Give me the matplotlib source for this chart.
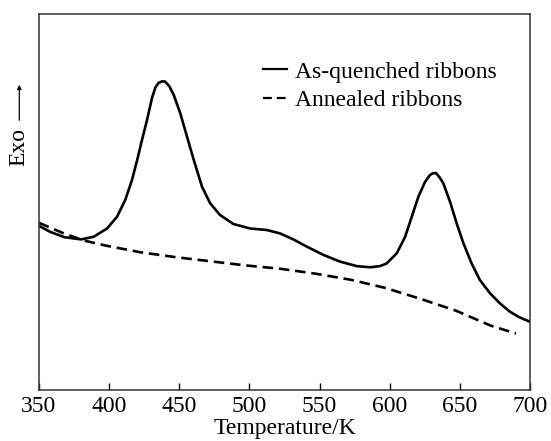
import numpy as np
import matplotlib
matplotlib.use("Agg")
import matplotlib.pyplot as plt

# temperature (K) and heat flow (arbitrary units)
temp_quenched = [350, 358, 368, 380, 389, 398.5, 405.6, 411.5, 416.3, 420, 423.4, 427, 430.5,
                 433, 435.3, 438, 440, 443, 446, 450.7, 455.5, 460.3, 466.2, 472, 479, 488.5,
                 500.4, 512.3, 521.8, 531.3, 540.8, 552.6, 564.6, 576.5, 586, 593, 597.8, 605,
                 611, 615.7, 620.4, 625.2, 628.7, 631, 633, 635.5, 638.2, 643, 647.7, 652.5,
                 658.4, 664.3, 671.5, 678.6, 685.7, 692, 700]
exo_quenched = [43.6, 42.0, 40.6, 40.0, 40.7, 42.9, 46.0, 50.5, 55.8, 61.1, 66.4, 71.7, 77.5,
                80.4, 81.6, 82.0, 81.9, 80.6, 78.4, 73.5, 67.3, 61.1, 54.0, 49.6, 46.5, 44.1,
                42.9, 42.5, 41.6, 40.0, 38.1, 35.9, 34.1, 32.9, 32.6, 32.9, 33.6, 36.3,
                40.7, 46.0, 51.3, 55.3, 57.1, 57.6, 57.6, 56.5, 54.9, 50.0, 44.3, 39.0,
                33.6, 29.2, 25.7, 23.0, 20.8, 19.4, 18.1]

temp_annealed = [350, 367, 382, 397, 422, 447, 472, 497, 522, 547, 572, 597, 622, 647, 672, 690]
exo_annealed = [44.4, 41.7, 39.7, 38.4, 36.6, 35.3, 34.2, 33.1, 32.2, 30.9, 29.3, 27.1, 24.2,
                21.1, 17.1, 15.0]

xticks = [350, 400, 450, 500, 550, 600, 650, 700]

plt.rcParams['font.family'] = ['Liberation Serif', 'DejaVu Serif']

W, H = 551, 441
fig = plt.figure(figsize=(W / 100, H / 100), dpi=100)
ax = fig.add_axes([39 / W, 1 - 390 / H, 491 / W, 376.5 / H])

ax.plot(temp_quenched, exo_quenched, color='black', lw=1.9, solid_joinstyle='round',
        label='As-quenched ribbons')
ax.plot(temp_annealed, exo_annealed, color='black', lw=1.9, dashes=(4, 2.2),
        label='Annealed ribbons')

ax.set_xlim(350, 700)
ax.set_ylim(0, 100)
ax.set_xticks(xticks)
ax.tick_params(axis='x', direction='in', length=5, width=1, labelsize=17, pad=4)
ax.set_yticks([])
for s in ax.spines.values():
    s.set_linewidth(1.1)
    s.set_color('#333333')

ax.set_xlabel('Temperature/K', fontsize=17, labelpad=1)

# y label with arrow
fig.text(19 / W, 1 - 147 / H, 'Exo', rotation=90, fontsize=17, ha='center', va='center')
ax.annotate('', xy=(19.3 / W, 1 - 82 / H), xytext=(19.3 / W, 1 - 123 / H),
            xycoords='figure fraction', textcoords='figure fraction',
            arrowprops=dict(arrowstyle='-|>', lw=0.9, color='black', mutation_scale=6))

leg = ax.legend(loc='upper left', bbox_to_anchor=(263 / W, 1 - 61 / H),
                bbox_transform=fig.transFigure, frameon=False, fontsize=17,
                handlelength=1.0, handletextpad=0.35, labelspacing=0.3, borderpad=0,
                borderaxespad=0)
for h in leg.get_lines():
    h.set_linewidth(1.6)

fig.savefig('out.png', dpi=100)
